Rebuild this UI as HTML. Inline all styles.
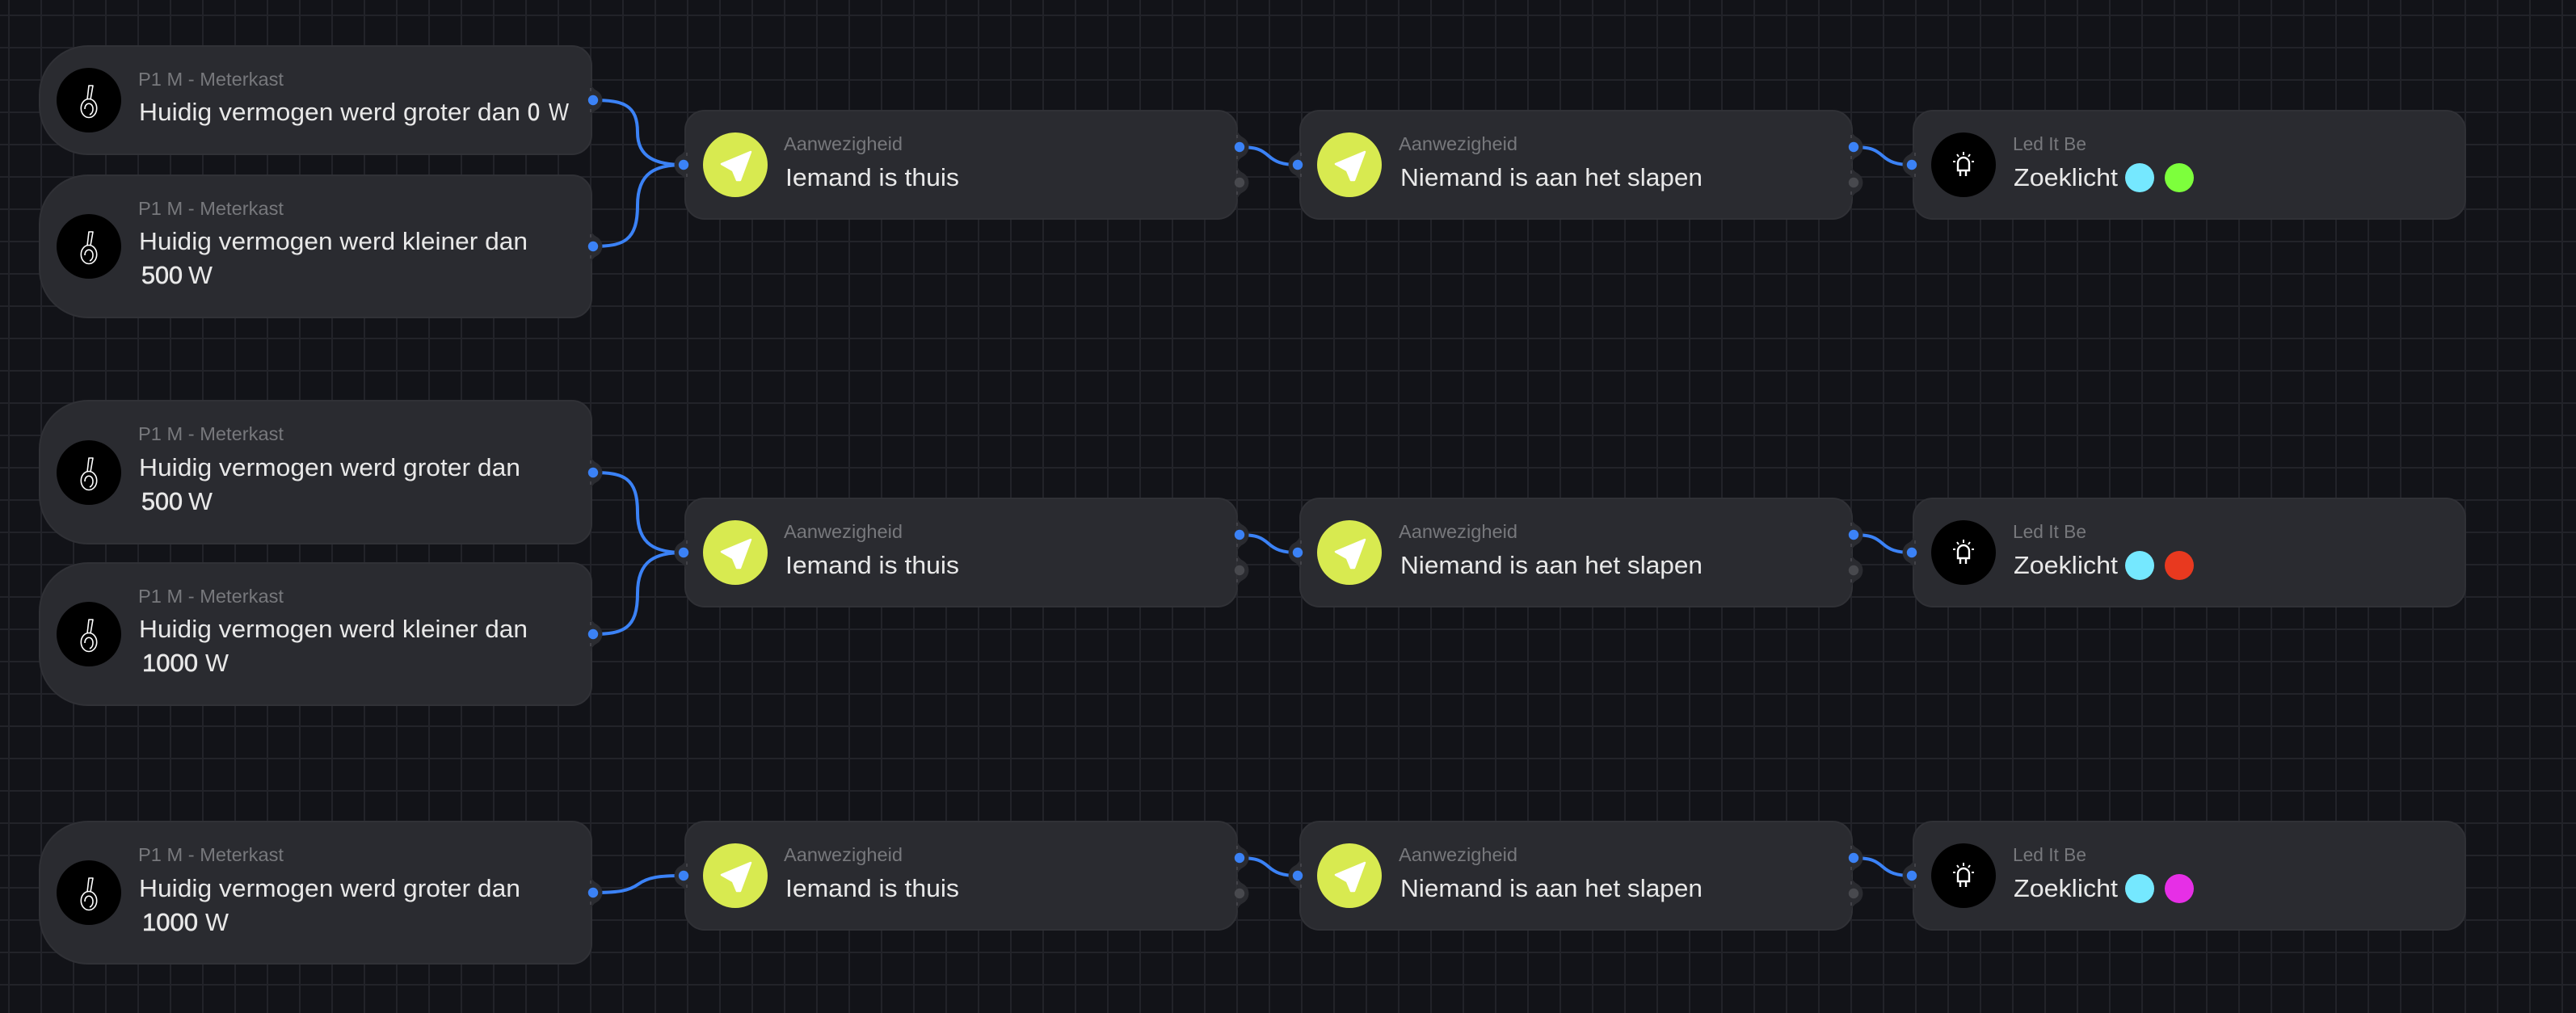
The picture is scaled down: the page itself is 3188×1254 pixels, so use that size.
<!DOCTYPE html>
<html lang="nl">
<head>
<meta charset="utf-8">
<title>Flow</title>
<style>
html,body{margin:0;padding:0;width:3188px;height:1254px;overflow:hidden;background:#121318}
svg{display:block;position:absolute;left:0;top:0}
text{font-family:"Liberation Sans",sans-serif;}
.t{font-size:23px;fill:#77787c}
.m{font-size:31px;fill:#e8e8e8}
.b{font-size:31px;fill:#e8e8e8;stroke:#e8e8e8;stroke-width:.6}
.c{fill:#2a2b30;stroke:#303136;stroke-width:2}
.e{fill:none;stroke:#3b82f6;stroke-width:4}
.ic{fill:none;stroke:#fff;stroke-width:1.6;stroke-linejoin:round}
</style>
</head>
<body>
<svg width="3188" height="1254" viewBox="0 0 3188 1254" xmlns="http://www.w3.org/2000/svg">
<defs>
<pattern id="g" x="10" y="18" width="40" height="40" patternUnits="userSpaceOnUse">
<rect x="0" y="0" width="2" height="40" fill="#222329"/>
<rect x="0" y="0" width="40" height="2" fill="#222329"/>
</pattern>
<g id="hout">
<path d="M-1,-22 Q0,-15 7,-11.5 A13.5,13.5 0 0 1 7,11.5 Q0,15 -1,22 Z" fill="#2a2b30"/>
<path d="M-1,-15V-11M-1,11V15" stroke="#4a4b50" stroke-width="1.5"/>
</g>
<g id="hin">
<path d="M1,-22 Q0,-15 -7,-11.5 A13.5,13.5 0 0 0 -7,11.5 Q0,15 1,22 Z" fill="#2a2b30"/>
<path d="M2,-15V-11M2,11V15" stroke="#4a4b50" stroke-width="1.5"/>
</g>
<g id="out">
<use href="#hout"/>
<circle cx="2" r="6.2" fill="#3b82f6"/>
</g>
<g id="in">
<use href="#hin"/>
<circle cx="-2" r="6.2" fill="#3b82f6"/>
</g>
<g id="gray">
<use href="#hout"/>
<circle cx="2" r="6.2" fill="#48494e"/>
</g>
<g id="pan">
<circle r="40" fill="#000"/>
<ellipse cx="0" cy="10" rx="9.7" ry="11.5" class="ic"/>
<path d="M-5,11 C-5,2 5,2 5,11 C5,15 3,17 1,18" class="ic"/>
<path d="M-2,-1 L0,-18 L5,-18 L2,-1" class="ic"/>
</g>
<g id="arrow">
<circle r="40" fill="#d8ea50"/>
<path d="M19,-16 L-17,-1 L-3,7 L2,19 L6,19 Z" fill="#fff" stroke="#fff" stroke-width="2.5" stroke-linejoin="round"/>
</g>
<g id="led">
<circle r="40" fill="#000"/>
<path d="M-7,7 V-2 A7,7 0 0 1 7,-2 V7 Z" fill="none" stroke="#fff" stroke-width="2.4"/>
<path d="M-4,7V14M3,7V14" stroke="#fff" stroke-width="2.4"/>
<path d="M0,-16V-12M-8,-13L-6,-10M8,-13L6,-10M-13,-4H-10M13,-4H10" stroke="#fff" stroke-width="2"/>
</g>
</defs>

<rect width="3188" height="1254" fill="#121318"/>
<rect width="3188" height="1254" fill="url(#g)"/>

<!-- edges -->
<path class="e" d="M734 124C772 124 789 130 789 164C789 195 812 204 846 204"/>
<path class="e" d="M734 305C772 305 789 298 789 254C789 213 812 204 846 204"/>
<path class="e" d="M1534 182C1556 182 1562 186 1570 193C1578 200 1586 204 1606 204"/>
<path class="e" d="M2294 182C2316 182 2322 186 2330 193C2338 200 2346 204 2366 204"/>
<path class="e" d="M734 585C772 585 789 591 789 634.5C789 675 812 684 846 684"/>
<path class="e" d="M734 785C772 785 789 778 789 734.5C789 693 812 684 846 684"/>
<path class="e" d="M1534 662C1556 662 1562 666 1570 673C1578 680 1586 684 1606 684"/>
<path class="e" d="M2294 662C2316 662 2322 666 2330 673C2338 680 2346 684 2366 684"/>
<path class="e" d="M734 1105C765 1105 778 1103 790 1094.5C802 1086 815 1084 846 1084"/>
<path class="e" d="M1534 1062C1556 1062 1562 1066 1570 1073C1578 1080 1586 1084 1606 1084"/>
<path class="e" d="M2294 1062C2316 1062 2322 1066 2330 1073C2338 1080 2346 1084 2366 1084"/>

<!-- left cards -->
<path class="c" d="M109 57H708a24 24 0 0 1 24 24V167a24 24 0 0 1-24 24H109a60 60 0 0 1-60-60V117a60 60 0 0 1 60-60Z"/>
<path class="c" d="M109 217H708a24 24 0 0 1 24 24V369a24 24 0 0 1-24 24H109a60 60 0 0 1-60-60V277a60 60 0 0 1 60-60Z"/>
<path class="c" d="M109 496H708a24 24 0 0 1 24 24V649a24 24 0 0 1-24 24H109a60 60 0 0 1-60-60V556a60 60 0 0 1 60-60Z"/>
<path class="c" d="M109 697H708a24 24 0 0 1 24 24V849a24 24 0 0 1-24 24H109a60 60 0 0 1-60-60V757a60 60 0 0 1 60-60Z"/>
<path class="c" d="M109 1017H708a24 24 0 0 1 24 24V1169a24 24 0 0 1-24 24H109a60 60 0 0 1-60-60V1077a60 60 0 0 1 60-60Z"/>

<!-- other cards -->
<rect class="c" x="848" y="137" width="683" height="134" rx="24"/>
<rect class="c" x="1609" y="137" width="683" height="134" rx="24"/>
<rect class="c" x="2368" y="137" width="683" height="134" rx="24"/>
<rect class="c" x="848" y="617" width="683" height="134" rx="24"/>
<rect class="c" x="1609" y="617" width="683" height="134" rx="24"/>
<rect class="c" x="2368" y="617" width="683" height="134" rx="24"/>
<rect class="c" x="848" y="1017" width="683" height="134" rx="24"/>
<rect class="c" x="1609" y="1017" width="683" height="134" rx="24"/>
<rect class="c" x="2368" y="1017" width="683" height="134" rx="24"/>

<!-- ports -->
<use href="#out" x="732" y="124"/><use href="#out" x="732" y="305"/><use href="#out" x="732" y="585"/><use href="#out" x="732" y="785"/><use href="#out" x="732" y="1105"/>
<use href="#in" x="848" y="204"/><use href="#in" x="848" y="684"/><use href="#in" x="848" y="1084"/>
<use href="#in" x="1608" y="204"/><use href="#in" x="1608" y="684"/><use href="#in" x="1608" y="1084"/>
<use href="#in" x="2368" y="204"/><use href="#in" x="2368" y="684"/><use href="#in" x="2368" y="1084"/>
<use href="#out" x="1532" y="182"/><use href="#gray" x="1532" y="226"/>
<use href="#out" x="2292" y="182"/><use href="#gray" x="2292" y="226"/>
<use href="#out" x="1532" y="662"/><use href="#gray" x="1532" y="706"/>
<use href="#out" x="2292" y="662"/><use href="#gray" x="2292" y="706"/>
<use href="#out" x="1532" y="1062"/><use href="#gray" x="1532" y="1106"/>
<use href="#out" x="2292" y="1062"/><use href="#gray" x="2292" y="1106"/>

<!-- icons -->
<use href="#pan" x="110" y="124"/><use href="#pan" x="110" y="305"/><use href="#pan" x="110" y="585"/><use href="#pan" x="110" y="785"/><use href="#pan" x="110" y="1105"/>
<use href="#arrow" x="910" y="204"/><use href="#arrow" x="1670" y="204"/><use href="#led" x="2430" y="204"/>
<use href="#arrow" x="910" y="684"/><use href="#arrow" x="1670" y="684"/><use href="#led" x="2430" y="684"/>
<use href="#arrow" x="910" y="1084"/><use href="#arrow" x="1670" y="1084"/><use href="#led" x="2430" y="1084"/>

<!-- chips -->
<circle cx="2648" cy="220" r="18" fill="#75e8ff"/><circle cx="2697" cy="220" r="18" fill="#7dff3c"/>
<circle cx="2648" cy="700" r="18" fill="#75e8ff"/><circle cx="2697" cy="700" r="18" fill="#e8391f"/>
<circle cx="2648" cy="1100" r="18" fill="#75e8ff"/><circle cx="2697" cy="1100" r="18" fill="#e62fe6"/>

<!-- left texts row A -->
<text class="t" x="171" y="106" textLength="180" lengthAdjust="spacingAndGlyphs">P1 M - Meterkast</text>
<text class="m" x="172" y="149" textLength="472" lengthAdjust="spacingAndGlyphs">Huidig vermogen werd groter dan</text>
<text class="b" x="653" y="149" textLength="15" lengthAdjust="spacingAndGlyphs">0</text>
<text class="m" x="679" y="149" textLength="25" lengthAdjust="spacingAndGlyphs">W</text>

<text class="t" x="171" y="266" textLength="180" lengthAdjust="spacingAndGlyphs">P1 M - Meterkast</text>
<text class="m" x="172" y="309" textLength="481" lengthAdjust="spacingAndGlyphs">Huidig vermogen werd kleiner dan</text>
<text class="b" x="175" y="351" textLength="51" lengthAdjust="spacingAndGlyphs">500</text>
<text class="m" x="233" y="351" textLength="30" lengthAdjust="spacingAndGlyphs">W</text>

<!-- row B -->
<text class="t" x="171" y="545" textLength="180" lengthAdjust="spacingAndGlyphs">P1 M - Meterkast</text>
<text class="m" x="172" y="589" textLength="472" lengthAdjust="spacingAndGlyphs">Huidig vermogen werd groter dan</text>
<text class="b" x="175" y="631" textLength="51" lengthAdjust="spacingAndGlyphs">500</text>
<text class="m" x="233" y="631" textLength="30" lengthAdjust="spacingAndGlyphs">W</text>

<text class="t" x="171" y="746" textLength="180" lengthAdjust="spacingAndGlyphs">P1 M - Meterkast</text>
<text class="m" x="172" y="789" textLength="481" lengthAdjust="spacingAndGlyphs">Huidig vermogen werd kleiner dan</text>
<text class="b" x="176" y="831" textLength="69" lengthAdjust="spacingAndGlyphs">1000</text>
<text class="m" x="254" y="831" textLength="29" lengthAdjust="spacingAndGlyphs">W</text>

<!-- row C -->
<text class="t" x="171" y="1066" textLength="180" lengthAdjust="spacingAndGlyphs">P1 M - Meterkast</text>
<text class="m" x="172" y="1110" textLength="472" lengthAdjust="spacingAndGlyphs">Huidig vermogen werd groter dan</text>
<text class="b" x="176" y="1152" textLength="69" lengthAdjust="spacingAndGlyphs">1000</text>
<text class="m" x="254" y="1152" textLength="29" lengthAdjust="spacingAndGlyphs">W</text>

<!-- middle/right texts -->
<text class="t" x="970" y="186" textLength="147" lengthAdjust="spacingAndGlyphs">Aanwezigheid</text>
<text class="m" x="972" y="230" textLength="215" lengthAdjust="spacingAndGlyphs">Iemand is thuis</text>
<text class="t" x="1731" y="186" textLength="147" lengthAdjust="spacingAndGlyphs">Aanwezigheid</text>
<text class="m" x="1733" y="230" textLength="374" lengthAdjust="spacingAndGlyphs">Niemand is aan het slapen</text>
<text class="t" x="2491" y="186" textLength="91" lengthAdjust="spacingAndGlyphs">Led It Be</text>
<text class="m" x="2492" y="230" textLength="129" lengthAdjust="spacingAndGlyphs">Zoeklicht</text>

<text class="t" x="970" y="666" textLength="147" lengthAdjust="spacingAndGlyphs">Aanwezigheid</text>
<text class="m" x="972" y="710" textLength="215" lengthAdjust="spacingAndGlyphs">Iemand is thuis</text>
<text class="t" x="1731" y="666" textLength="147" lengthAdjust="spacingAndGlyphs">Aanwezigheid</text>
<text class="m" x="1733" y="710" textLength="374" lengthAdjust="spacingAndGlyphs">Niemand is aan het slapen</text>
<text class="t" x="2491" y="666" textLength="91" lengthAdjust="spacingAndGlyphs">Led It Be</text>
<text class="m" x="2492" y="710" textLength="129" lengthAdjust="spacingAndGlyphs">Zoeklicht</text>

<text class="t" x="970" y="1066" textLength="147" lengthAdjust="spacingAndGlyphs">Aanwezigheid</text>
<text class="m" x="972" y="1110" textLength="215" lengthAdjust="spacingAndGlyphs">Iemand is thuis</text>
<text class="t" x="1731" y="1066" textLength="147" lengthAdjust="spacingAndGlyphs">Aanwezigheid</text>
<text class="m" x="1733" y="1110" textLength="374" lengthAdjust="spacingAndGlyphs">Niemand is aan het slapen</text>
<text class="t" x="2491" y="1066" textLength="91" lengthAdjust="spacingAndGlyphs">Led It Be</text>
<text class="m" x="2492" y="1110" textLength="129" lengthAdjust="spacingAndGlyphs">Zoeklicht</text>
</svg>
</body>
</html>
